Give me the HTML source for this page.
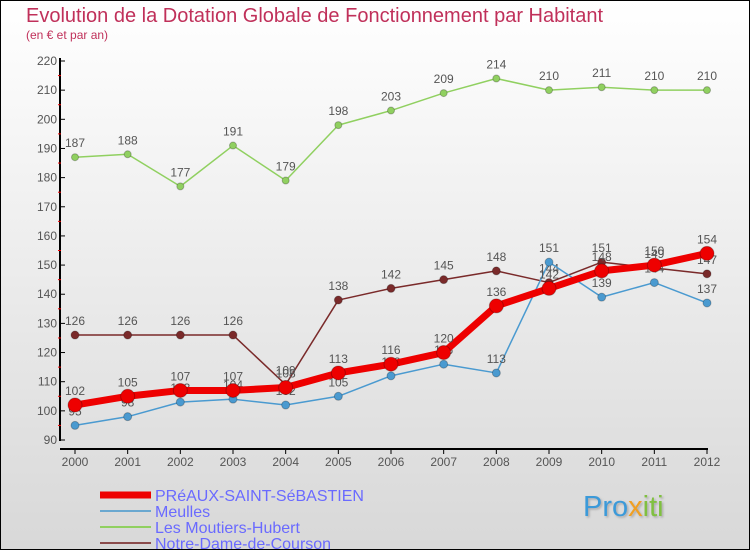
<!DOCTYPE html>
<html><head><meta charset="utf-8"><style>
body{margin:0}
#c{width:750px;height:550px;position:relative;font-family:"Liberation Sans",sans-serif}
svg text{font-family:"Liberation Sans",sans-serif}
</style></head><body>
<div id="c">
<svg id="s" width="750" height="550" xmlns="http://www.w3.org/2000/svg">
<defs><linearGradient id="bg" x1="0" y1="0" x2="0" y2="1"><stop offset="0" stop-color="#ffffff"/><stop offset="1" stop-color="#d8d8d8"/></linearGradient>
<filter id="sh"><feDropShadow dx="1.5" dy="1.5" stdDeviation="1" flood-color="#888" flood-opacity="0.6"/></filter></defs>
<rect x="0.5" y="0.5" width="749" height="549" fill="url(#bg)" stroke="#000"/>
<text x="26" y="22" font-size="20" fill="#c0305a">Evolution de la Dotation Globale de Fonctionnement par Habitant</text>
<text x="26" y="39" font-size="12" fill="#c0305a">(en € et par an)</text>
<g id="axes"></g><g id="series"></g><g id="legend"></g>
<text x="583" y="516" font-size="29" filter="url(#sh)" fill="#3a9ad9">Pro<tspan fill="#f0a020">x</tspan><tspan fill="#80c040">iti</tspan></text>
</svg>
</div>
<script>
const years=[2000,2001,2002,2003,2004,2005,2006,2007,2008,2009,2010,2011,2012];
const yTicks=[90,100,110,120,130,140,150,160,170,180,190,200,210,220];
const preaux=[102,105,107,107,108,113,116,120,136,142,148,150,154];
const meulles=[95,98,103,104,102,105,112,116,113,151,139,144,137];
const moutiers=[187,188,177,191,179,198,203,209,214,210,211,210,210];
const notreDame=[126,126,126,126,109,138,142,145,148,144,151,149,147];
const NS="http://www.w3.org/2000/svg";
const X=i=>75+i*(707-75)/12;
const Y=v=>440-(v-90)*(440-61)/130;
function mk(t,a,p){const e=document.createElementNS(NS,t);for(const k in a)e.setAttribute(k,a[k]);p.appendChild(e);return e;}
const ax=document.getElementById('axes');
let l=mk('line',{x1:60,y1:58,x2:60,y2:441,stroke:'#000','stroke-width':2},ax);


l=mk('line',{x1:60,y1:449,x2:708,y2:449,stroke:'#000','stroke-width':2},ax);


yTicks.forEach((v,i)=>{
  mk('line',{x1:60,y1:Y(v),x2:65,y2:Y(v),stroke:'#000'},ax);
  if(i<yTicks.length-1)mk('line',{x1:58,y1:Y(v+5),x2:61,y2:Y(v+5),stroke:'#e00'},ax);
  const t=mk('text',{x:57,y:Y(v)+4,'font-size':12,'text-anchor':'end',fill:'#555'},ax);
  t.textContent=v;
  
  
});
years.forEach((y,i)=>{
  mk('line',{x1:X(i),y1:449,x2:X(i),y2:454,stroke:'#000'},ax);
  const t=mk('text',{x:X(i),y:466,'font-size':12,'text-anchor':'middle',fill:'#555'},ax);
  t.textContent=y;
  
  
});
const sg=document.getElementById('series');
function series(data,color,w,r,name){
  const g=mk('g',{},sg);
  
  
  mk('polyline',{points:data.map((v,i)=>X(i)+','+Y(v)).join(' '),fill:'none',stroke:color,'stroke-width':w,'stroke-linejoin':'round'},g);
  data.forEach((v,i)=>{
    const c=mk('circle',{cx:X(i),cy:Y(v),r:r,fill:color,stroke:'rgba(0,0,0,0.25)'},g);
    
    
    const t=mk('text',{x:X(i),y:Y(v)-10,'font-size':12,'text-anchor':'middle',fill:'#555'},g);
    t.textContent=v;
    
    
  });
}
series(moutiers,'#90d060',1.5,3.5,'moutiers-series');
series(notreDame,'#7a2a2a',1.5,4,'notre-dame-series');
series(meulles,'#4a9ad0',1.5,4,'meulles-series');
series(preaux,'#ee0000',7,7,'preaux-series');
const lg=document.getElementById('legend');
const items=[['PRéAUX-SAINT-SéBASTIEN','#ee0000',7],['Meulles','#6aa8d0',2],['Les Moutiers-Hubert','#90d060',2],['Notre-Dame-de-Courson','#8a4a4a',2]];
items.forEach((it,i)=>{
  const y=493+i*16;
  const g=mk('g',{},lg);
  
  
  mk('line',{x1:100,y1:y+2,x2:151,y2:y+2,stroke:it[1],'stroke-width':it[2]},g);
  const t=mk('text',{x:155,y:y+8,'font-size':16,fill:'#6a6aff'},g);
  t.textContent=it[0];
});
</script>
</body></html>
